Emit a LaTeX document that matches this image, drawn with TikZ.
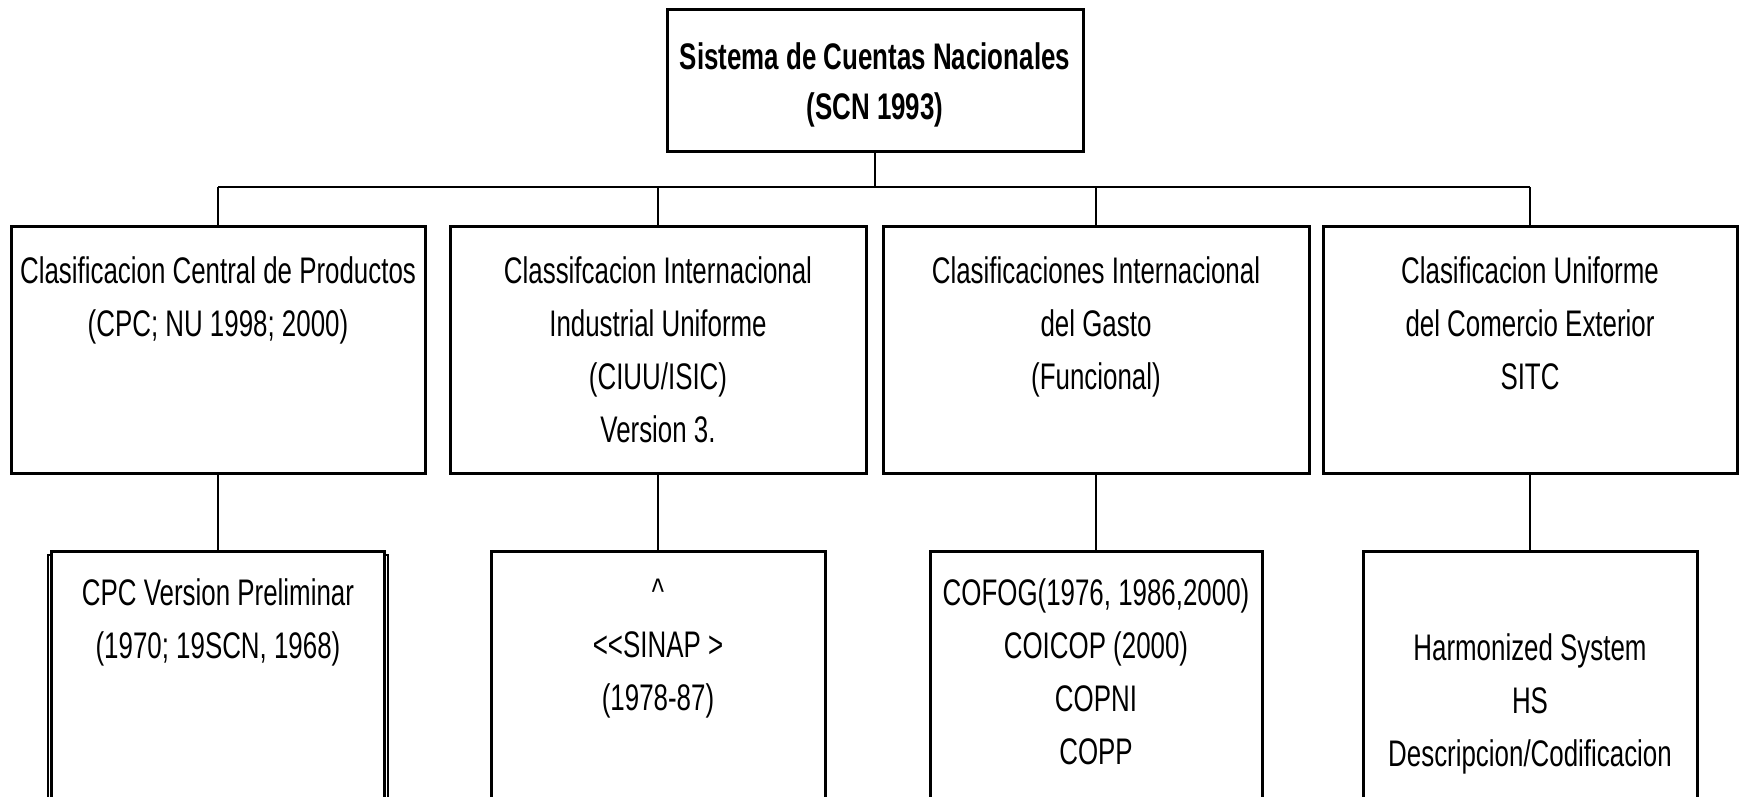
\documentclass[tikz,border=0pt]{standalone}
\usepackage{fontspec}
\setmainfont{Liberation Sans}[FakeStretch=0.70]
\usetikzlibrary{positioning}

\begin{document}
\begin{tikzpicture}[x=1pt,y=-1pt,
    box/.style={draw,line width=3pt,inner sep=0pt,fill=white},
    txt/.style={align=center,inner sep=0pt,font=\fontsize{37}{53}\selectfont},
    link/.style={line width=2pt},
    droplink/.style={line width=1.5pt}]
  \useasboundingbox (0,0) rectangle (1740,797);

  % top: national accounts
  \node[box,minimum width=416pt,minimum height=142pt] (scn) at (875,81) {};
  \node[txt,font=\fontsize{37}{50}\selectfont\bfseries,yshift=-4pt] (scntxt) at (scn)
        {Sistema de Cuentas Nacionales\\(SCN 1993)};

  % second row: the four classifications
  \node[box,minimum width=414pt,minimum height=247pt] (cpc)   at (218,349.5) {};
  \node[box,minimum width=416pt,minimum height=247pt] (ciiu)  at (658,349.5) {};
  \node[box,minimum width=426pt,minimum height=247pt] (gasto) at (1096,349.5) {};
  \node[box,minimum width=414pt,minimum height=247pt] (sitc)  at (1530,349.5) {};

  \node[txt,below=32pt of cpc.north]   (cpctxt)   {Clasificacion Central de Productos\\(CPC; NU 1998; 2000)};
  \node[txt,below=32pt of ciiu.north]  (ciiutxt)  {Classifcacion Internacional\\Industrial Uniforme\\(CIUU/ISIC)\\Version 3.};
  \node[txt,below=32pt of gasto.north] (gastotxt) {Clasificaciones Internacional\\del Gasto\\(Funcional)};
  \node[txt,below=32pt of sitc.north]  (sitctxt)  {Clasificacion Uniforme\\del Comercio Exterior\\SITC};

  % bus from the top box
  \coordinate (busL) at (218,187);
  \coordinate (busR) at (1530,187);
  \draw[link] (scn.south) -- (scn.south |- busL);
  \draw[link] (busL) -- (busR);
  \foreach \n in {cpc,ciiu,gasto,sitc}
    \draw[droplink] (\n.north |- busL) -- (\n.north);

  % third row: detailed versions (cut off by the page)
  \node[draw,line width=2.5pt,minimum width=340pt,minimum height=270pt,
        below=79pt of cpc] (cpcback) {};
  \node[box,minimum width=333pt,minimum height=270pt,below=75pt of cpc]   (cpcprev) {};
  \node[box,minimum width=334pt,minimum height=270pt,below=75pt of ciiu]  (sinap) {};
  \node[box,minimum width=332pt,minimum height=270pt,below=75pt of gasto] (cofog) {};
  \node[box,minimum width=334pt,minimum height=270pt,below=75pt of sitc]  (hs) {};

  \node[txt,below=29pt of cpcprev.north] (cpcprevtxt) {CPC Version Preliminar\\(1970; 19SCN, 1968)};
  \node[txt,below=29pt of sinap.north]   (sinaptxt)   {\textasciicircum\\<\kern0pt<SINAP >\\(1978-87)};
  \node[txt,below=29pt of cofog.north]   (cofogtxt)   {COFOG(1976, 1986,2000)\\COICOP (2000)\\COPNI\\COPP};
  \node[txt,below=84pt of hs.north]      (hstxt)      {Harmonized System\\HS\\Descripcion/Codificacion};

  \foreach \a/\b in {cpc/cpcprev,ciiu/sinap,gasto/cofog,sitc/hs}
    \draw[droplink] (\a.south) -- (\a.south |- \b.north);
\end{tikzpicture}
\end{document}
